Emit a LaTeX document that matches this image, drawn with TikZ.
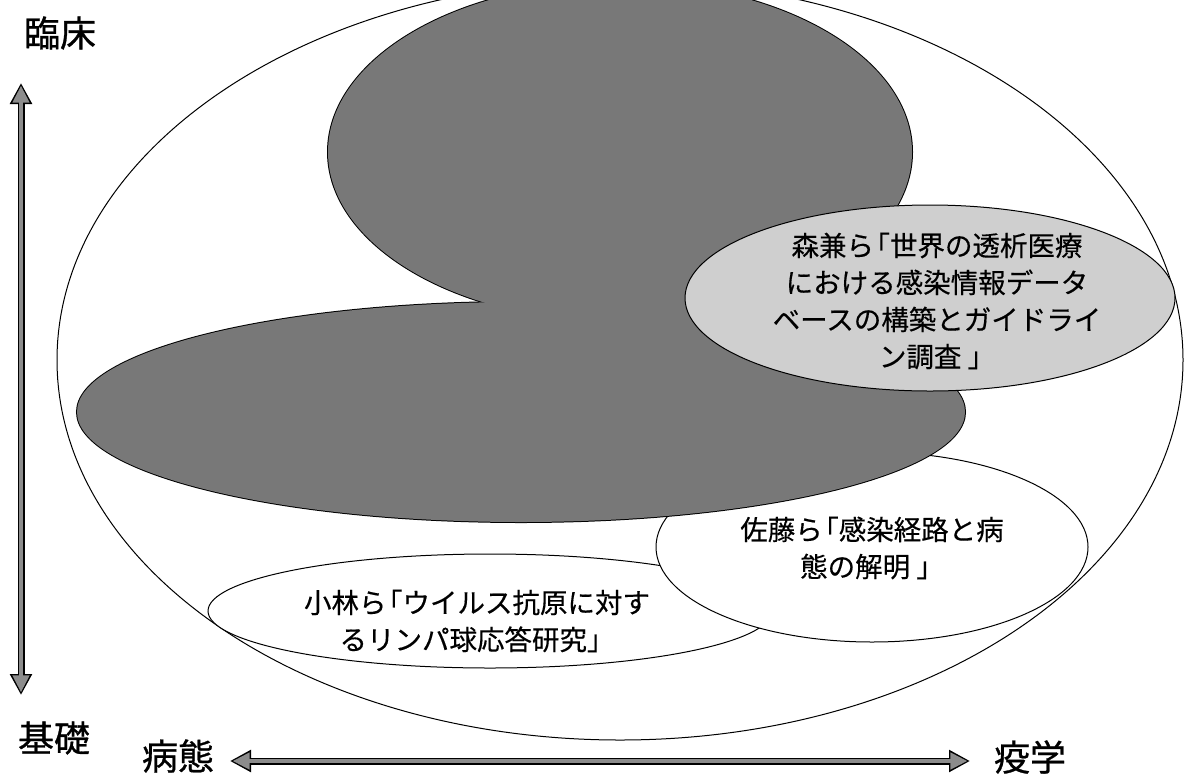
\documentclass[tikz,border=0pt]{standalone}
\usepackage{fontspec}
\newfontfamily\jpfont[FakeBold=0.35]{Noto Sans CJK JP}
\newfontfamily\jpaxisfont[FakeBold=0.8]{Noto Sans CJK JP}
\usetikzlibrary{shapes.geometric,arrows.meta}
\definecolor{darkfill}{gray}{0.47}
\definecolor{lightfill}{gray}{0.81}
\definecolor{axisgray}{gray}{0.55}
\newcommand{\jlq}{\kern-0.42em「}
\begin{document}
\begin{tikzpicture}[x=1pt,y=-1pt,
  outline/.style={draw=black, line width=1pt},
  oval/.style={outline, fill=white},
  ovaltext/.style={font=\jpfont\fontsize{27.5}{37}\selectfont, align=center, inner sep=0pt},
  axislabel/.style={font=\jpaxisfont\fontsize{36}{40}\selectfont, inner sep=0pt},
  axisouter/.style={draw=black, line width=7pt, {Triangle[length=21pt,width=21pt]}-{Triangle[length=21pt,width=21pt]}},
  axisinner/.style={draw=axisgray, line width=4.6pt, shorten <=2.6pt, shorten >=2.6pt, {Triangle[length=17pt,width=16pt]}-{Triangle[length=17pt,width=16pt]}},
]
\useasboundingbox (0,0) rectangle (1185,774);
\fill[white] (0,0) rectangle (1185,774);

% outer field
\draw[oval] (620,360) ellipse [x radius=563, y radius=380];
% lower ovals
\draw[oval] (490,611) ellipse [x radius=282, y radius=57];
\draw[oval] (872,547) ellipse [x radius=216, y radius=95];
% dark region (union of two ellipses)
\draw[black, line width=2pt] (620,152) ellipse [x radius=292, y radius=170];
\draw[black, line width=2pt] (521,412) ellipse [x radius=444, y radius=110];
\fill[darkfill] (620,152) ellipse [x radius=292, y radius=170];
\fill[darkfill] (521,412) ellipse [x radius=444, y radius=110];
% light oval
\draw[outline, fill=lightfill] (930,298) ellipse [x radius=245, y radius=93];

% texts
\node[ovaltext] (morikane-text) at (937,301) {森兼ら\jlq 世界の透析医療\\における感染情報データ\\ベースの構築とガイドライ\\ン調査 」};
\node[ovaltext] (sato-text) at (872,548) {佐藤ら\jlq 感染経路と病\\態の解明 」};
\node[ovaltext] (kobayashi-text) at (477,621) {小林ら\jlq ウイルス抗原に対す\\るリンパ球応答研究」};

% axis labels
\node[axislabel] (clinical) at (60,33) {臨床};
\node[axislabel] (basic) at (54,738) {基礎};
\node[axislabel] (pathology) at (178,756) {病態};
\node[axislabel] (epidem) at (1030,757) {疫学};

% axes
\coordinate (vtop) at (21,83);
\coordinate (vbot) at (21,695);
\coordinate (hleft) at (230,761);
\coordinate (hright) at (970,761);
\draw[axisouter] (vbot) -- (vtop);
\draw[axisinner] (vbot) -- (vtop);
\draw[axisouter] (hleft) -- (hright);
\draw[axisinner] (hleft) -- (hright);
\end{tikzpicture}
\end{document}
